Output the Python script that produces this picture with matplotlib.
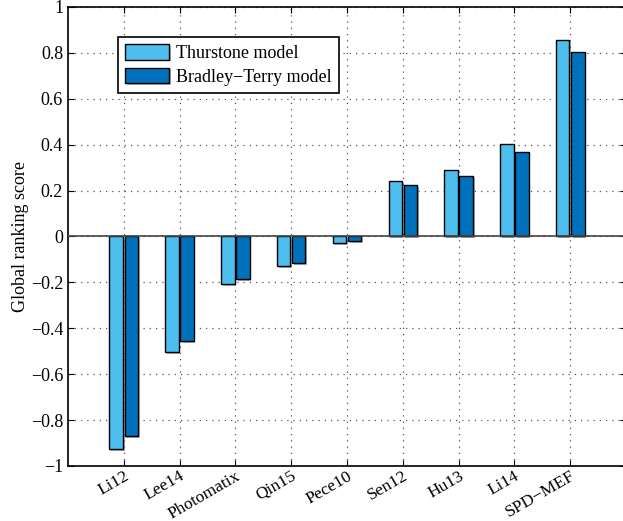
import matplotlib.pyplot as plt
import matplotlib.patheffects as pe
import numpy as np

plt.rcParams['font.family'] = ['Liberation Serif', 'DejaVu Serif']

methods = ['Li12', 'Lee14', 'Photomatix', 'Qin15', 'Pece10', 'Sen12', 'Hu13', 'Li14', 'SPD\u2212MEF']
thurstone = [-0.926, -0.503, -0.207, -0.128, -0.028, 0.242, 0.290, 0.403, 0.856]
bradley_terry = [-0.869, -0.455, -0.185, -0.115, -0.020, 0.224, 0.264, 0.368, 0.804]
series_names = ['Thurstone model', 'Bradley\u2212Terry model']

fig = plt.figure(figsize=(6.23, 5.21), dpi=100)
ax = fig.add_axes([0.109, 0.1056, 0.896, 0.881])

x = np.arange(1, len(methods) + 1)
w = 0.24
shadow = [pe.withSimplePatchShadow(offset=(1.2, -1.2), shadow_rgbFace='gray', alpha=0.6)]
ax.bar(x - 0.135, thurstone, w, color='#4DBEEE', edgecolor='black', linewidth=1,
       label=series_names[0], zorder=3, path_effects=shadow)
ax.bar(x + 0.135, bradley_terry, w, color='#0072BD', edgecolor='black', linewidth=1,
       label=series_names[1], zorder=3, path_effects=shadow)
ax.axhline(0, color='#444444', linewidth=1.2, zorder=4)

ax.set_xlim(0, 10)
ax.set_ylim(-1, 1)
ax.set_xticks(x)
ax.set_xticklabels(methods, rotation=30, ha='right', va='top', rotation_mode='anchor', fontsize=12.5)
ax.set_yticks(np.arange(-1, 1.01, 0.2))
ax.set_yticklabels(['\u22121', '\u22120.8', '\u22120.6', '\u22120.4', '\u22120.2', '0',
                    '0.2', '0.4', '0.6', '0.8', '1'], fontsize=13)
ax.tick_params(direction='in', top=True, right=True, length=4, width=0.8)
ax.tick_params(axis='x', pad=1.5)
ax.grid(True, linestyle=(0, (1, 4)), color='#555555', linewidth=0.9, zorder=0)
ax.set_axisbelow(True)
for s in ax.spines.values():
    s.set_linewidth(1.2)

ax.set_ylabel('Global ranking score', fontsize=13, labelpad=1)

leg = ax.legend(loc='upper left', bbox_to_anchor=(0.0896, 0.9346), borderaxespad=0,
                fontsize=13, handlelength=2.45, handleheight=0.95, handletextpad=0.35,
                fancybox=False, edgecolor='black', framealpha=1, borderpad=0.4,
                labelspacing=0.3)
leg.get_frame().set_linewidth(1.2)

fig.savefig('out.png', dpi=100)
